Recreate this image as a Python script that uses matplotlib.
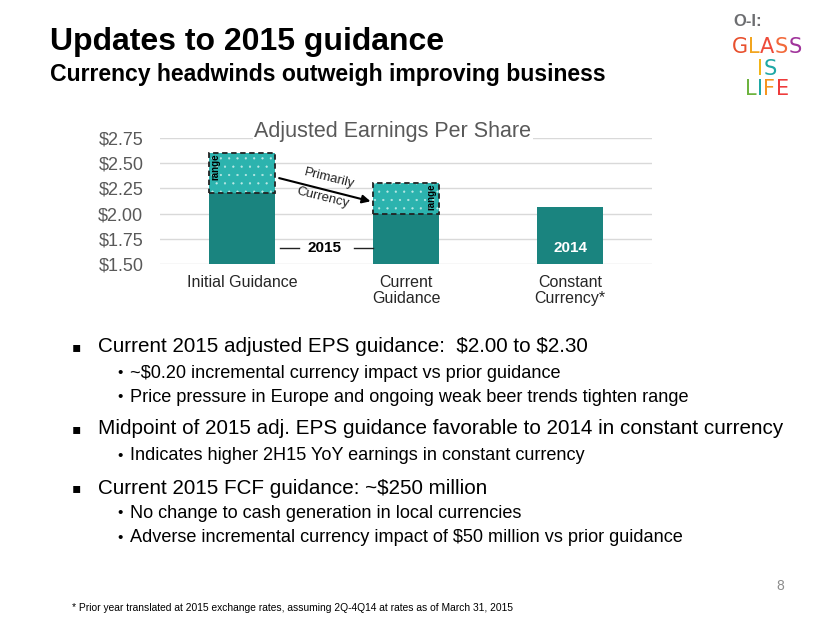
import matplotlib

matplotlib.use("Agg")
import matplotlib.pyplot as plt

W, H = 830, 623

# chart data
categories = ["Initial Guidance", "Current\nGuidance", "Constant\nCurrency*"]
base_eps = [2.20, 2.00, 2.07]
range_low = [2.20, 2.00]
range_high = [2.60, 2.30]
yticks = [1.50, 1.75, 2.00, 2.25, 2.50, 2.75]

# slide text
bullets = [
    (1, "Current 2015 adjusted EPS guidance:  $2.00 to $2.30", 347),
    (2, "~$0.20 incremental currency impact vs prior guidance", 373),
    (2, "Price pressure in Europe and ongoing weak beer trends tighten range", 397),
    (1, "Midpoint of 2015 adj. EPS guidance favorable to 2014 in constant currency", 429),
    (2, "Indicates higher 2H15 YoY earnings in constant currency", 456),
    (1, "Current 2015 FCF guidance: ~$250 million", 488),
    (2, "No change to cash generation in local currencies", 513),
    (2, "Adverse incremental currency impact of $50 million vs prior guidance", 538),
]
logo_rows = [
    ("GLASS", ["#E8502E", "#F2A51F", "#EE4B3A", "#F26A3B", "#A0349B"], 47),
    ("IS", ["#F2B517", "#1FA8A5"], 69),
    ("LIFE", ["#6DB33F", "#1FA8A5", "#F7941D", "#EE3B3B"], 89),
]

DARK = "#1A847F"
LIGHT = "#2CB3AE"
GRAY = "#595959"
FONT = ["Liberation Sans", "DejaVu Sans"]

plt.rcParams["font.family"] = FONT
plt.rcParams["hatch.linewidth"] = 0.35


def fx(x):
    return x / W


def fy(y):
    return 1 - y / H


fig = plt.figure(figsize=(W / 100, H / 100), dpi=100)
renderer = fig.canvas.get_renderer()

fig.text(fx(50), fy(42), "Updates to 2015 guidance", fontsize=23, fontweight="bold",
         va="center", ha="left", color="black")
fig.text(fx(50), fy(75), "Currency headwinds outweigh improving business", fontsize=16.6,
         fontweight="bold", va="center", ha="left", color="black")

# logo, one letter at a time, each word centred on the logo axis
fig.text(fx(733), fy(21), "O-I:", fontsize=12, fontweight="bold", color="#6D6E71",
         va="center", ha="left")
for word, colors, yc in logo_rows:
    parts = []
    for ch, c in zip(word, colors):
        t = fig.text(0, fy(yc), ch, fontsize=15, color=c, va="center", ha="left",
                     family="DejaVu Sans")
        parts.append((t, t.get_window_extent(renderer).width + 0.5))
    x = 767 - sum(w for _, w in parts) / 2
    for t, w in parts:
        t.set_x(fx(x))
        x += w

# chart
ax = fig.add_axes([fx(160), fy(264), (652 - 160) / W, (264 - 138) / H])
x = list(range(len(categories)))
ax.bar(x, base_eps, width=0.4, color=DARK, zorder=2)
heights = [h - l for h, l in zip(range_high, range_low)]
ax.bar(x[:2], heights, bottom=range_low, width=0.4, color=LIGHT, edgecolor="#BDE9E6",
       hatch="..", linewidth=0, zorder=2)
ax.bar(x[:2], heights, bottom=range_low, width=0.4, fill=False, edgecolor="#222222",
       linestyle=(0, (3, 2)), linewidth=1.3, zorder=3)

ax.set_xlim(-0.5, 2.5)
ax.set_ylim(1.497, 2.753)
ax.set_yticks(yticks)
ax.set_yticklabels([f"${v:.2f}" for v in yticks], fontsize=13, color=GRAY)
ax.set_xticks(x)
ax.set_xticklabels(categories, fontsize=11.5, color="#262626", linespacing=1.1)
ax.tick_params(length=0, axis="y", pad=12)
ax.tick_params(length=0, axis="x", pad=8)
ax.grid(axis="y", color="#D9D9D9", lw=1, zorder=0)
for s in ax.spines.values():
    s.set_visible(False)

ax.text(0.92, 2.82, "Adjusted Earnings Per Share", fontsize=15.5,
        color=GRAY, ha="center", va="center", zorder=5,
        bbox=dict(facecolor="white", edgecolor="none", pad=1))

ax.annotate("", xy=(0.80, 2.115), xytext=(0.21, 2.36),
            arrowprops=dict(arrowstyle="-|>", color="black", lw=1.5, mutation_scale=12),
            zorder=4)
ax.text(0.53, 2.355, "Primarily", rotation=-14, fontsize=9.5, ha="center", va="center",
        color="#222222")
ax.text(0.49, 2.16, "Currency", rotation=-14, fontsize=9.5, ha="center", va="center",
        color="#222222")
ax.text(-0.165, 2.47, "range", rotation=90, fontsize=7, fontweight="bold",
        ha="center", va="center", zorder=4)
ax.text(1.155, 2.17, "range", rotation=90, fontsize=7, fontweight="bold",
        ha="center", va="center", zorder=4)

ax.text(0.5, 1.66, "2015", fontsize=11, fontweight="bold", ha="center", va="center")
ax.plot([0.23, 0.35], [1.66, 1.66], color="#222222", lw=1)
ax.plot([0.68, 0.80], [1.66, 1.66], color="#222222", lw=1)
ax.text(2, 1.66, "2014", fontsize=11, fontweight="bold", ha="center", va="center",
        color="white", zorder=4)

# bullets
for level, text, y in bullets:
    if level == 1:
        fig.text(fx(72), fy(y), "\u25aa", fontsize=10, va="center", ha="left",
                 family="DejaVu Sans")
        fig.text(fx(98), fy(y), text, fontsize=14.9, va="center", ha="left",
                 parse_math=False)
    else:
        fig.text(fx(117), fy(y), "\u2022", fontsize=11, va="center", ha="left")
        fig.text(fx(130), fy(y), text, fontsize=13.1, va="center", ha="left",
                 parse_math=False)

fig.text(fx(776), fy(586), "8", fontsize=10, color="#8C8C8C", va="center", ha="left")
fig.text(fx(72), fy(608),
         "* Prior year translated at 2015 exchange rates, assuming 2Q-4Q14 at rates as of March 31, 2015",
         fontsize=7.4, va="center", ha="left")

fig.savefig("out.png", dpi=100)
